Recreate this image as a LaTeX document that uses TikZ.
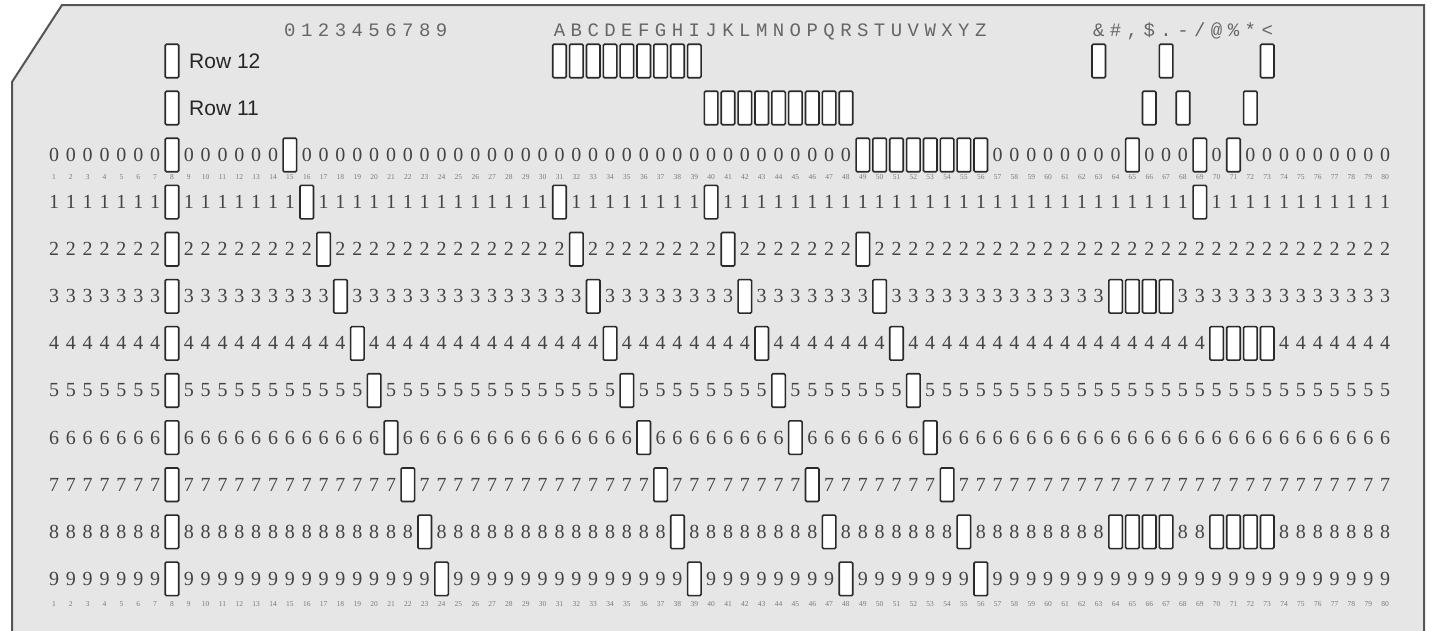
\documentclass[tikz,border=0pt]{standalone}
\usepackage{fontspec}
\setmainfont{Liberation Serif}
\newfontfamily\cardmono{Liberation Mono}
\newfontfamily\cardsans{Liberation Sans}
\definecolor{cardfill}{HTML}{E6E6E6}
\definecolor{cardedge}{HTML}{555555}
\definecolor{holeedge}{HTML}{2A2A2A}
\definecolor{digitcol}{HTML}{444444}
\definecolor{printcol}{HTML}{666666}
\definecolor{smallcol}{HTML}{7A7A7A}
\expandafter\def\csname prow0\endcsname{,8,15,49,50,51,52,53,54,55,56,65,69,71,}
\expandafter\def\csname prow1\endcsname{,8,16,31,40,69,}
\expandafter\def\csname prow2\endcsname{,8,17,32,41,49,}
\expandafter\def\csname prow3\endcsname{,8,18,33,42,50,64,65,66,67,}
\expandafter\def\csname prow4\endcsname{,8,19,34,43,51,70,71,72,73,}
\expandafter\def\csname prow5\endcsname{,8,20,35,44,52,}
\expandafter\def\csname prow6\endcsname{,8,21,36,45,53,}
\expandafter\def\csname prow7\endcsname{,8,22,37,46,54,}
\expandafter\def\csname prow8\endcsname{,8,23,38,47,55,64,65,66,67,70,71,72,73,}
\expandafter\def\csname prow9\endcsname{,8,24,39,48,56,}
\makeatletter
\newcommand\testpunch[2]{\edef\pk@t{\noexpand\in@{,#2,}{\csname prow#1\endcsname}}\pk@t
  \ifin@\def\ispunched{1}\else\def\ispunched{0}\fi}
\makeatother
\tikzset{
  hole/.style={rectangle, draw=holeedge, fill=white, line width=1.6pt,
    minimum width=13.5pt, minimum height=33.5pt, inner sep=0pt, rounded corners=1.2pt},
  digit/.style={text=digitcol, font=\fontsize{20}{22}\selectfont, inner sep=0pt},
  colnum/.style={text=smallcol, font=\fontsize{7.5}{8}\selectfont, inner sep=0pt},
  printed/.style={text=printcol, font=\cardmono\fontsize{19}{21}\selectfont, inner sep=0pt, anchor=base},
  rowlabel/.style={text=black!85, font=\cardsans\fontsize{21}{23}\selectfont, inner sep=0pt, anchor=west},
  cardshape/.style={fill=cardfill, draw=cardedge, line width=2pt}
}
\begin{document}
\begin{tikzpicture}[x=1pt,y=-1pt]
\useasboundingbox (0,0) rectangle (1432,630);
% card
\draw[cardshape] (12,640) -- (12,82) -- (62,5) -- (1424,5) -- (1424,640);
% rows 0-9
\foreach \r in {0,...,9}{
  \foreach \c in {1,...,80}{
    \testpunch{\r}{\c}%
    \ifnum\ispunched=1
      \node[hole] (h-\r-\c) at ({54+(\c-1)*16.85},{155+\r*47.1}) {};
    \else
      \node[digit] (d-\r-\c) at ({54+(\c-1)*16.85},{155+\r*47.1}) {\r};
    \fi
  }
}
% rows 12 and 11
\foreach \c in {8,31,32,33,34,35,36,37,38,39,63,67,73}{
  \node[hole] (h-12-\c) at ({54+(\c-1)*16.85},61) {};
}
\foreach \c in {8,40,41,42,43,44,45,46,47,48,66,68,72}{
  \node[hole] (h-11-\c) at ({54+(\c-1)*16.85},108) {};
}
\node[rowlabel] (lab12) at (189,61) {Row 12};
\node[rowlabel] (lab11) at (189,108) {Row 11};
% column numbers
\foreach \c in {1,...,80}{
  \node[colnum] (ta-\c) at ({54+(\c-1)*16.85},177) {\c};
  \node[colnum] (tb-\c) at ({54+(\c-1)*16.85},604) {\c};
}
% printed characters
\foreach \ch [count=\i from 0] in {0,1,2,3,4,5,6,7,8,9}{
  \node[printed] (pd-\i) at ({54+(14+\i)*16.85},36.5) {\ch};
}
\foreach \ch [count=\i from 0] in {A,B,C,D,E,F,G,H,I,J,K,L,M,N,O,P,Q,R,S,T,U,V,W,X,Y,Z}{
  \node[printed] (pl-\i) at ({54+(30+\i)*16.85},36.5) {\ch};
}
\foreach \ch [count=\i from 0] in {\&,\#,{,},\$,.,-,/,@,\%,*,<}{
  \node[printed] (ps-\i) at ({54+(62+\i)*16.85},36.5) {\ch};
}
\end{tikzpicture}
\end{document}
